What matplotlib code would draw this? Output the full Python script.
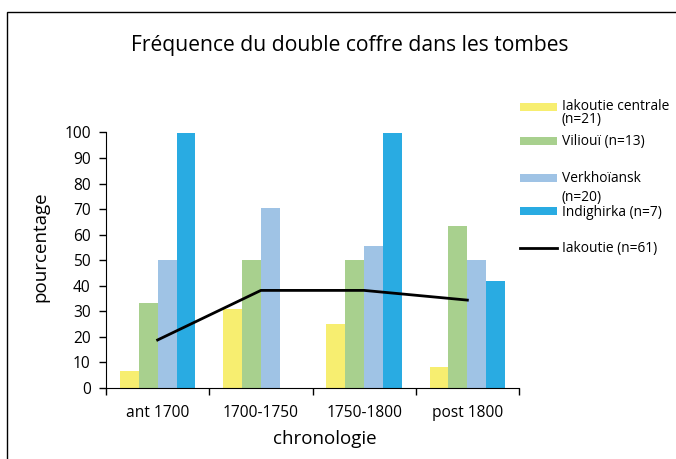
import matplotlib.pyplot as plt
import matplotlib.patches as mpatches
from matplotlib.lines import Line2D
import numpy as np

plt.rcParams['font.family'] = ['Open Sans', 'DejaVu Sans']

periods = ["ant 1700", "1700-1750", "1750-1800", "post 1800"]
centrale = [6.7, 30.8, 25.0, 8.3]
vilioui = [33.3, 50.0, 50.0, 63.6]
verkho = [50.0, 70.6, 55.6, 50.0]
indig = [100.0, 0.0, 100.0, 41.7]
iakoutie = [18.8, 38.2, 38.2, 34.4]

series = [centrale, vilioui, verkho, indig]
colors = ["#F7EE70", "#A8D08E", "#9FC3E5", "#29ABE2"]

W, H = 676, 459
fig = plt.figure(figsize=(W / 100, H / 100), dpi=100)
ax = fig.add_axes([106 / W, 1 - 388 / H, (519 - 106) / W, (388 - 132.5) / H])

x = np.arange(len(periods))
bw = 0.183
for i, (vals, c) in enumerate(zip(series, colors)):
    ax.bar(x + (i - 1.5) * bw, vals, bw, color=c, linewidth=0)
ax.plot(x, iakoutie, color="black", lw=2)

ax.set_xlim(-0.5, 3.5)
ax.set_ylim(0, 100)
ax.set_yticks(range(0, 101, 10))
ax.set_xticks(x)
ax.set_xticklabels(periods, fontsize=11.2)
ax.set_xticks(np.arange(-0.5, 3.6, 1), minor=True)
ax.tick_params(axis="x", which="major", length=0, pad=12)
ax.tick_params(axis="x", which="minor", length=5, width=1)
ax.tick_params(axis="y", length=5, width=1, labelsize=11.2, pad=6)
for s in ["top", "right"]:
    ax.spines[s].set_visible(False)
ax.set_ylabel("pourcentage", fontsize=13.5, labelpad=8)
ax.set_xlabel("chronologie", fontsize=13.5, labelpad=7)
ax.yaxis.set_label_coords(-0.136, 0.554)
ax.xaxis.label.set_x(0.531)

fig.text(350 / W, 1 - 46 / H, "Fréquence du double coffre dans les tombes",
         fontsize=15.2, ha="center", va="center")

# frame around the figure
fig.patches.append(mpatches.Rectangle((7 / W, -0.1), 1.2, 1.1 - 12 / H,
                                      transform=fig.transFigure, fill=False,
                                      edgecolor="black", lw=1))

# legend, placed by hand
leg_items = [
    (colors[0], 107, ["Iakoutie centrale", "(n=21)"], [106, 120]),
    (colors[1], 141, ["Viliouï (n=13)"], [142]),
    (colors[2], 178, ["Verkhoïansk", "(n=20)"], [179, 197]),
    (colors[3], 211, ["Indighirka (n=7)"], [213]),
]
for c, yc, texts, ys in leg_items:
    fig.patches.append(mpatches.Rectangle((520 / W, 1 - (yc + 4) / H), 37 / W, 8 / H,
                                          transform=fig.transFigure, color=c, lw=0))
    for t, yt in zip(texts, ys):
        fig.text(562 / W, 1 - yt / H, t, fontsize=9.9, va="center")
fig.lines.append(Line2D([520 / W, 557 / W], [1 - 248 / H, 1 - 248 / H],
                        transform=fig.transFigure, color="black", lw=2))
fig.text(562 / W, 1 - 248 / H, "Iakoutie (n=61)", fontsize=9.9, va="center")

fig.savefig("out.png", dpi=100)
